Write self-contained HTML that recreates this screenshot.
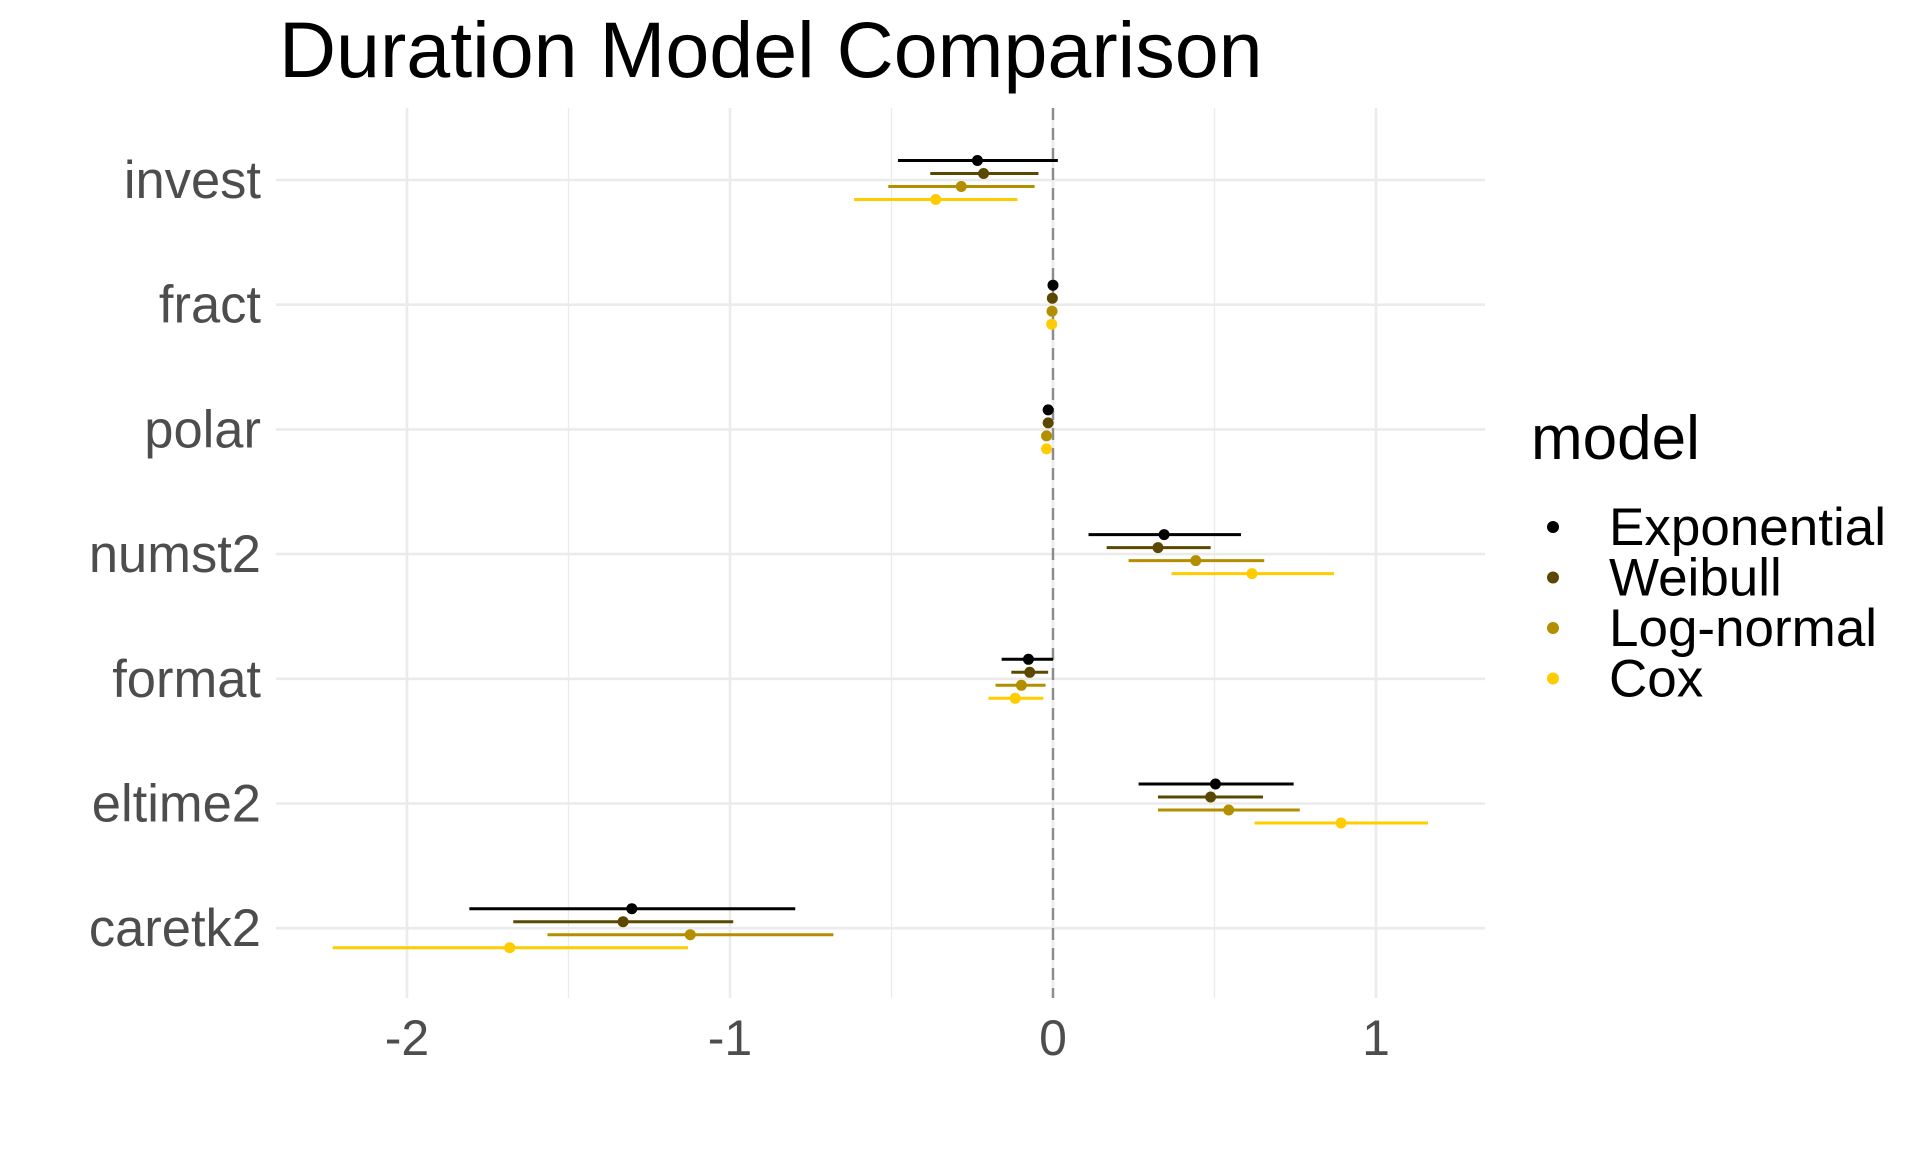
<!DOCTYPE html>
<html><head><meta charset="utf-8"><style>
html,body{margin:0;padding:0;background:#fff;width:1920px;height:1152px;overflow:hidden}
svg{display:block;font-family:"Liberation Sans",Arial,sans-serif}
</style></head><body>
<svg id="chart" width="1920" height="1152" viewBox="0 0 1920 1152">
<text x="279" y="77" font-size="79" fill="#000">Duration Model Comparison</text>
<g id="grid"></g><g id="marks"></g><g id="axes"></g><g id="legend"></g>
</svg>
<script>
const categories = ["invest","fract","polar","numst2","format","eltime2","caretk2"];
const models = ["Exponential","Weibull","Log-normal","Cox"];
const colors = ["#000000","#5b4800","#b38f00","#ffcc00"];
const estExp  = [-0.234, 0.000, -0.015, 0.344, -0.076, 0.503, -1.304];
const loExp   = [-0.48, -0.005, -0.02, 0.11, -0.159, 0.265, -1.807];
const hiExp   = [0.015, 0.005, -0.01, 0.582, 0.0, 0.745, -0.798];
const estWei  = [-0.215, -0.002, -0.015, 0.325, -0.072, 0.488, -1.331];
const loWei   = [-0.38, -0.006, -0.02, 0.166, -0.129, 0.325, -1.671];
const hiWei   = [-0.045, 0.002, -0.01, 0.488, -0.015, 0.65, -0.99];
const estLog  = [-0.284, -0.003, -0.02, 0.442, -0.098, 0.544, -1.123];
const loLog   = [-0.51, -0.007, -0.025, 0.234, -0.178, 0.325, -1.565];
const hiLog   = [-0.057, 0.001, -0.015, 0.654, -0.023, 0.764, -0.68];
const estCox  = [-0.363, -0.004, -0.02, 0.616, -0.117, 0.892, -1.682];
const loCox   = [-0.616, -0.008, -0.025, 0.367, -0.2, 0.624, -2.23];
const hiCox   = [-0.11, 0.0, -0.015, 0.87, -0.03, 1.161, -1.13];
const xTicks = [-2,-1,0,1];
const xTickLabels = ["-2","-1","0","1"];
const xMinor = [-1.5,-0.5,0.5];

const NS="http://www.w3.org/2000/svg";
const PL=276, PR=1485, PT=108, PB=998;
function xs(v){return 1053 + v*323;}
function ys(i){return 180 + i*124.7;}
function mk(parent,tag,attrs){const e=document.createElementNS(NS,tag);for(const k in attrs)e.setAttribute(k,attrs[k]);document.getElementById(parent).appendChild(e);return e;}

xMinor.forEach(v=>{const l=mk('grid','line',{x1:xs(v),x2:xs(v),y1:PT,y2:PB,stroke:'#ebebeb','stroke-width':1.3});

});
xTicks.forEach((v,i)=>{const l=mk('grid','line',{x1:xs(v),x2:xs(v),y1:PT,y2:PB,stroke:'#ebebeb','stroke-width':2.6});


const t=mk('axes','text',{x:xs(v),y:1055,'font-size':50,fill:'#4d4d4d','text-anchor':'middle'});
t.textContent=xTickLabels[i];

});
categories.forEach((c,i)=>{const l=mk('grid','line',{x1:PL,x2:PR,y1:ys(i),y2:ys(i),stroke:'#ebebeb','stroke-width':2.6});


const t=mk('axes','text',{x:261,y:ys(i)+18,'font-size':52.5,fill:'#4d4d4d','text-anchor':'end'});
t.textContent=c;

});
const zl=mk('grid','line',{x1:xs(0),x2:xs(0),y1:PT,y2:PB,stroke:'#8c8c8c','stroke-width':2.4,'stroke-dasharray':'12,8'});



const series=[[estExp,loExp,hiExp],[estWei,loWei,hiWei],[estLog,loLog,hiLog],[estCox,loCox,hiCox]];
const offs=[-19.5,-6.5,6.5,19.5];
series.forEach((s,m)=>{categories.forEach((c,i)=>{const y=ys(i)+offs[m];
const l=mk('marks','line',{x1:xs(s[1][i]),x2:xs(s[2][i]),y1:y,y2:y,stroke:colors[m],'stroke-width':3});


const p=mk('marks','circle',{cx:xs(s[0][i]),cy:y,r:5.5,fill:colors[m]});

});});

const lt=mk('legend','text',{x:1531,y:459,'font-size':62,fill:'#000'});
lt.textContent='model';


models.forEach((m,i)=>{const d=mk('legend','circle',{cx:1553,cy:527+i*50.5,r:6,fill:colors[i]});


const t=mk('legend','text',{x:1609,y:545+i*50.5,'font-size':53,fill:'#000'});
t.textContent=m;

});
</script>
</body></html>
